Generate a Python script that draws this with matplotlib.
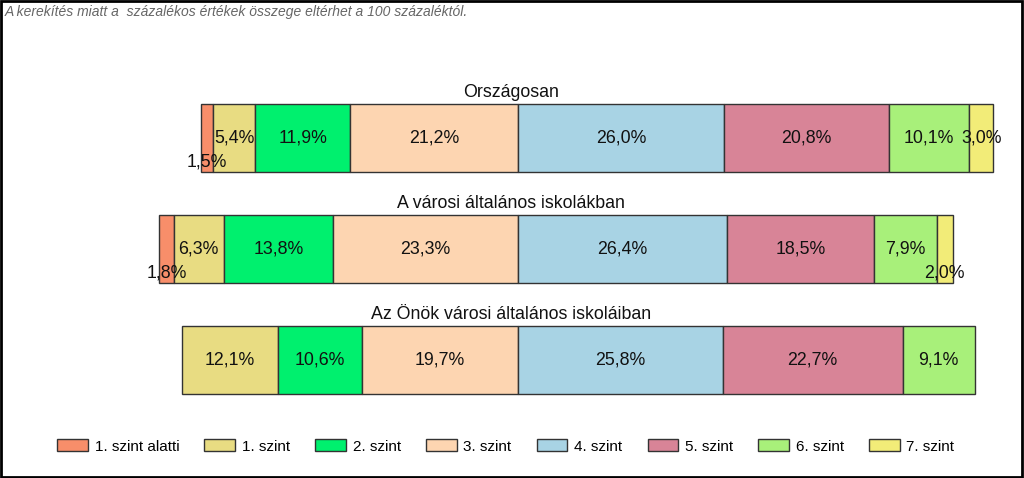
import numpy as np
import matplotlib
matplotlib.use('Agg')
import matplotlib.pyplot as plt
from matplotlib.patches import Rectangle, Patch
import matplotlib.transforms as mtransforms

plt.rcParams['font.family'] = ['Liberation Sans', 'DejaVu Sans']

groups = ['Országosan', 'A városi általános iskolákban', 'Az Önök városi általános iskoláiban']
levels = ['1. szint alatti', '1. szint', '2. szint', '3. szint',
          '4. szint', '5. szint', '6. szint', '7. szint']
# percentages per level (rows = groups)
below1 = [1.5, 1.8, 0.0]
lvl1 = [5.4, 6.3, 12.1]
lvl2 = [11.9, 13.8, 10.6]
lvl3 = [21.2, 23.3, 19.7]
lvl4 = [26.0, 26.4, 25.8]
lvl5 = [20.8, 18.5, 22.7]
lvl6 = [10.1, 7.9, 9.1]
lvl7 = [3.0, 2.0, 0.0]

colors = ['#F88E6A', '#E8DC82', '#00F06E', '#FDD5B1',
          '#A8D3E4', '#D88497', '#A8F07A', '#F2EC78']

series = np.array([below1, lvl1, lvl2, lvl3, lvl4, lvl5, lvl6, lvl7])

fig = plt.figure(figsize=(10.24, 4.78), dpi=100)
ax = fig.add_axes([0, 0, 1, 1])
ax.set_xlim(-65.3, 63.8)
ax.set_ylim(3.063, -1.243)
ax.axis('off')

bar_h = 0.61
y = np.arange(len(groups))
# left side (levels below 4) stacked leftwards from zero, the rest rightwards
left_start = -series[:4].sum(axis=0)
starts = np.vstack([left_start + np.concatenate([np.zeros((1, 3)), np.cumsum(series[:3], axis=0)]),
                    np.concatenate([np.zeros((1, 3)), np.cumsum(series[4:7], axis=0)])])

for k in range(len(levels)):
    for i in range(len(groups)):
        v = series[k, i]
        if v <= 0:
            continue
        ax.barh(y[i], v, left=starts[k, i], height=bar_h, color=colors[k],
                edgecolor='#333333', linewidth=1)
        dy = 0.22 if v < 2.5 else 0.0
        ax.text(starts[k, i] + v / 2, y[i] + dy, f'{v:.1f}%'.replace('.', ','),
                ha='center', va='center', fontsize=12.8, color='#111111')

trans = mtransforms.blended_transform_factory(ax.transAxes, ax.transData)
for i, g in enumerate(groups):
    ax.text(0.499, y[i] - bar_h / 2 - 0.06, g, transform=trans,
            ha='center', va='baseline', fontsize=12.8, color='#111111')

fig.text(0.005, 0.975, 'A kerekítés miatt a  százalékos értékek összege eltérhet a 100 százaléktól.',
         ha='left', va='center', fontsize=10, style='italic', color='#666666')

handles = [Patch(facecolor=c, edgecolor='#333333', linewidth=1) for c in colors]
fig.legend(handles, levels, loc='center', bbox_to_anchor=(0.494, 0.066), ncol=8,
           frameon=False, fontsize=11, handlelength=2.0, handleheight=0.85,
           handletextpad=0.45, columnspacing=1.65)

fig.patches.append(Rectangle((0.001, 0.002), 0.997, 0.996, transform=fig.transFigure,
                             fill=False, edgecolor='black', linewidth=2))

fig.savefig('out.png', dpi=100, facecolor='white')
